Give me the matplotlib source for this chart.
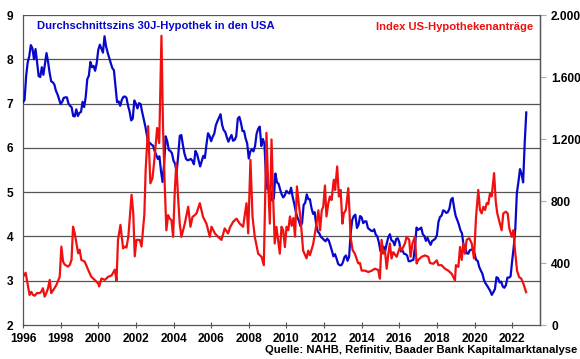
import numpy as np
import matplotlib
matplotlib.use("Agg")
import matplotlib.pyplot as plt
from matplotlib.ticker import FuncFormatter

plt.rcParams['font.family'] = ['Liberation Sans', 'DejaVu Sans']
plt.rcParams['font.weight'] = 'bold'

# Durchschnittszins 30J-Hypothek, monatlich ab Jan 1996 (%)
zins = [
    7.03, 7.08, 7.62, 7.93, 8.07, 8.32, 8.25, 8.00, 8.23, 7.92, 7.62, 7.60,  # 1996
    7.82, 7.65, 7.90, 8.14, 7.94, 7.69, 7.50, 7.48, 7.43, 7.29, 7.21, 7.10,  # 1997
    6.99, 7.04, 7.13, 7.14, 7.14, 7.00, 6.95, 6.92, 6.72, 6.71, 6.87, 6.72,  # 1998
    6.79, 6.81, 7.04, 6.92, 7.15, 7.55, 7.63, 7.94, 7.82, 7.85, 7.74, 7.91,  # 1999
    8.21, 8.33, 8.24, 8.15, 8.52, 8.29, 8.15, 8.03, 7.91, 7.80, 7.75, 7.38,  # 2000
    7.03, 7.05, 6.95, 7.08, 7.15, 7.16, 7.13, 6.95, 6.82, 6.62, 6.66, 7.07,  # 2001
    7.00, 6.89, 7.01, 6.99, 6.81, 6.65, 6.49, 6.29, 6.09, 6.11, 6.07, 6.05,  # 2002
    5.92, 5.84, 5.75, 5.81, 5.48, 5.23, 5.63, 6.26, 6.15, 5.95, 5.93, 5.88,  # 2003
    5.71, 5.64, 5.45, 5.83, 6.27, 6.29, 6.06, 5.87, 5.75, 5.72, 5.73, 5.75,  # 2004
    5.71, 5.63, 5.93, 5.86, 5.72, 5.58, 5.70, 5.82, 5.77, 6.07, 6.33, 6.27,  # 2005
    6.15, 6.25, 6.32, 6.51, 6.60, 6.68, 6.76, 6.52, 6.40, 6.36, 6.24, 6.14,  # 2006
    6.22, 6.29, 6.16, 6.18, 6.26, 6.66, 6.70, 6.57, 6.38, 6.38, 6.21, 6.10,  # 2007
    5.76, 5.92, 5.97, 5.92, 6.04, 6.32, 6.43, 6.48, 6.04, 6.20, 6.09, 5.33,  # 2008
    5.06, 5.13, 5.00, 4.81, 4.86, 5.42, 5.22, 5.19, 5.06, 4.95, 4.88, 4.93,  # 2009
    5.03, 4.99, 4.97, 5.10, 4.89, 4.74, 4.56, 4.43, 4.35, 4.23, 4.30, 4.71,  # 2010
    4.76, 4.95, 4.84, 4.84, 4.64, 4.51, 4.55, 4.27, 4.11, 4.07, 3.99, 3.96,  # 2011
    3.92, 3.89, 3.95, 3.91, 3.80, 3.68, 3.55, 3.60, 3.50, 3.38, 3.35, 3.35,  # 2012
    3.41, 3.53, 3.57, 3.45, 3.54, 4.07, 4.37, 4.46, 4.49, 4.19, 4.26, 4.46,  # 2013
    4.43, 4.30, 4.34, 4.34, 4.19, 4.16, 4.13, 4.12, 4.16, 4.04, 4.00, 3.86,  # 2014
    3.67, 3.71, 3.77, 3.67, 3.84, 3.98, 4.05, 3.91, 3.89, 3.80, 3.94, 3.96,  # 2015
    3.87, 3.66, 3.69, 3.61, 3.60, 3.57, 3.44, 3.44, 3.46, 3.47, 3.77, 4.20,  # 2016
    4.15, 4.17, 4.20, 4.05, 4.01, 3.90, 3.97, 3.88, 3.81, 3.90, 3.92, 3.95,  # 2017
    4.03, 4.33, 4.44, 4.47, 4.59, 4.57, 4.53, 4.55, 4.63, 4.83, 4.87, 4.64,  # 2018
    4.46, 4.37, 4.27, 4.14, 4.07, 3.80, 3.77, 3.62, 3.61, 3.69, 3.70, 3.72,  # 2019
    3.62, 3.47, 3.45, 3.31, 3.23, 3.16, 3.02, 2.94, 2.89, 2.83, 2.77, 2.68,  # 2020
    2.74, 2.81, 3.08, 3.06, 2.96, 2.98, 2.87, 2.84, 2.90, 3.07, 3.07, 3.10,  # 2021
    3.45, 3.76, 4.17, 4.98, 5.23, 5.52, 5.41, 5.22, 6.11, 6.80,              # 2022
]
zins_t = 1996 + np.arange(len(zins)) / 12.0

# Index US-Hypothekenanträge (rechte Achse)
antrag_t = [
    1996.00, 1996.14, 1996.27, 1996.35, 1996.44, 1996.53, 1996.62, 1996.74, 1996.88, 1996.97,
    1997.06, 1997.15, 1997.24, 1997.33, 1997.42, 1997.50, 1997.63, 1997.77, 1997.87, 1997.95,
    1998.04, 1998.13, 1998.22, 1998.40, 1998.49, 1998.58, 1998.66, 1998.75, 1998.93, 1999.01,
    1999.10, 1999.28, 1999.46, 1999.63, 1999.81, 1999.99, 2000.05, 2000.17, 2000.35, 2000.53,
    2000.71, 2000.88, 2000.97, 2001.05, 2001.18, 2001.32, 2001.42, 2001.50, 2001.60, 2001.77,
    2001.86, 2001.94, 2002.03, 2002.21, 2002.30, 2002.45, 2002.52, 2002.65, 2002.77, 2002.88,
    2003.00, 2003.13, 2003.24, 2003.36, 2003.44, 2003.53, 2003.62, 2003.71, 2003.80, 2003.89,
    2003.98, 2004.07, 2004.15, 2004.24, 2004.33, 2004.42, 2004.60, 2004.78, 2004.90, 2005.01,
    2005.13, 2005.22, 2005.40, 2005.57, 2005.75, 2005.93, 2006.02, 2006.20, 2006.37, 2006.55,
    2006.72, 2006.90, 2007.00, 2007.17, 2007.35, 2007.52, 2007.70, 2007.88, 2007.97, 2008.09,
    2008.20, 2008.32, 2008.50, 2008.68, 2008.80, 2008.94, 2009.03, 2009.12, 2009.21, 2009.30,
    2009.38, 2009.47, 2009.65, 2009.74, 2009.83, 2009.92, 2010.01, 2010.10, 2010.19, 2010.28,
    2010.37, 2010.46, 2010.56, 2010.66, 2010.75, 2010.89, 2011.07, 2011.16, 2011.25, 2011.42,
    2011.60, 2011.70, 2011.79, 2011.88, 2011.96, 2012.05, 2012.13, 2012.22, 2012.31, 2012.40,
    2012.52, 2012.59, 2012.70, 2012.79, 2012.88, 2012.98, 2013.05, 2013.16, 2013.29, 2013.35,
    2013.41, 2013.52, 2013.64, 2013.82, 2013.91, 2014.00, 2014.18, 2014.35, 2014.53, 2014.70,
    2014.88, 2014.97, 2015.06, 2015.15, 2015.24, 2015.33, 2015.42, 2015.50, 2015.59, 2015.68,
    2015.86, 2016.04, 2016.12, 2016.30, 2016.39, 2016.53, 2016.60, 2016.70, 2016.83, 2016.92,
    2017.01, 2017.19, 2017.37, 2017.54, 2017.63, 2017.81, 2017.99, 2018.08, 2018.25, 2018.43,
    2018.60, 2018.78, 2018.96, 2019.01, 2019.14, 2019.23, 2019.32, 2019.40, 2019.49, 2019.58,
    2019.72, 2019.85, 2019.97, 2020.08, 2020.20, 2020.29, 2020.38, 2020.47, 2020.56, 2020.65,
    2020.73, 2020.82, 2020.91, 2021.04, 2021.13, 2021.21, 2021.35, 2021.44, 2021.53, 2021.67,
    2021.76, 2021.85, 2021.98, 2022.07, 2022.15, 2022.26, 2022.37, 2022.48, 2022.60, 2022.74,
]
antrag = [
    311, 337, 249, 194, 214, 194, 189, 206, 206, 214,
    237, 183, 206, 237, 291, 206, 229, 257, 286, 311,
    506, 409, 389, 377, 389, 420, 634, 591, 463, 486,
    420, 409, 357, 311, 291, 269, 249, 300, 291, 311,
    320, 357, 286, 549, 646, 494, 506, 500, 571, 840,
    723, 443, 549, 549, 506, 714, 1000, 1283, 914, 946,
    1086, 1271, 1174, 1866, 1283, 914, 611, 709, 686, 677,
    569, 871, 1043, 829, 654, 569, 654, 763, 634, 697,
    709, 720, 786, 697, 654, 569, 634, 591, 569, 549,
    623, 591, 629, 666, 686, 654, 634, 786, 591, 1066,
    697, 569, 460, 440, 386, 1240, 914, 654, 1197, 806,
    526, 634, 460, 634, 611, 503, 634, 611, 700, 640,
    690, 570, 894, 780, 690, 480, 430, 480, 450, 520,
    654, 740, 611, 740, 763, 900, 700, 780, 829, 806,
    937, 871, 1023, 829, 871, 654, 720, 742, 883, 742,
    569, 483, 460, 397, 400, 351, 351, 342, 350, 363,
    355, 299, 549, 460, 480, 363, 460, 526, 429, 470,
    440, 503, 480, 526, 569, 549, 440, 526, 569, 397,
    420, 440, 449, 440, 400, 395, 417, 386, 386, 363,
    351, 331, 289, 386, 375, 503, 420, 526, 460, 549,
    560, 526, 429, 697, 871, 742, 720, 763, 742, 786,
    780, 849, 830, 980, 794, 720, 654, 611, 720, 731,
    720, 623, 569, 611, 483, 351, 309, 300, 266, 212,
]

jahre = list(range(1996, 2023, 2))
links_ticks = [2, 3, 4, 5, 6, 7, 8, 9]
rechts_ticks = [0, 400, 800, 1200, 1600, 2000]

blau = '#0808CC'
rot = '#F01010'
grau = '#555555'

fig = plt.figure(figsize=(5.8, 3.59), dpi=100)
ax = fig.add_axes([23 / 580, 1 - 325 / 359, 517 / 580, 310 / 359])
ax2 = ax.twinx()

ax.plot(zins_t, zins, color=blau, lw=1.6, zorder=3)
ax2.plot(antrag_t, antrag, color=rot, lw=1.6)

ax.set_xlim(1996, 2023.48)
ax.set_ylim(2, 9)
ax2.set_ylim(0, 2000)
ax.set_xticks(jahre)
ax.set_yticks(links_ticks)
ax2.set_yticks(rechts_ticks)
ax2.yaxis.set_major_formatter(FuncFormatter(lambda v, p: f"{int(v):,}".replace(",", ".")))

for y in links_ticks[1:]:
    ax.axhline(y, color=grau, lw=0.9, zorder=1)

for a in (ax, ax2):
    for s in a.spines.values():
        s.set_color(grau)
        s.set_linewidth(0.9)
    a.spines['top'].set_visible(False)
ax2.spines['left'].set_visible(False)
ax2.spines['bottom'].set_visible(False)

ax.tick_params(axis='x', direction='inout', length=4, width=0.8, color=grau,
               labelsize=8.6, pad=4)
ax.tick_params(axis='y', direction='out', length=0, labelsize=8.6, pad=7)
ax2.tick_params(axis='y', direction='out', length=4, width=0.8, color='#aaaaaa',
                labelsize=8.6, pad=4)

fig.text(37 / 580, 1 - 26 / 359, "Durchschnittszins 30J-Hypothek in den USA",
         color=blau, fontsize=8.1, fontweight='bold', va='center', ha='left')
fig.text(533 / 580, 1 - 27 / 359, "Index US-Hypothekenanträge",
         color=rot, fontsize=8.1, fontweight='bold', va='center', ha='right')
fig.text(577 / 580, 1 - 350 / 359, "Quelle: NAHB, Refinitiv, Baader Bank Kapitalmarktanalyse",
         color='black', fontsize=8.1, fontweight='bold', va='center', ha='right')

fig.savefig("out.png", dpi=100)
